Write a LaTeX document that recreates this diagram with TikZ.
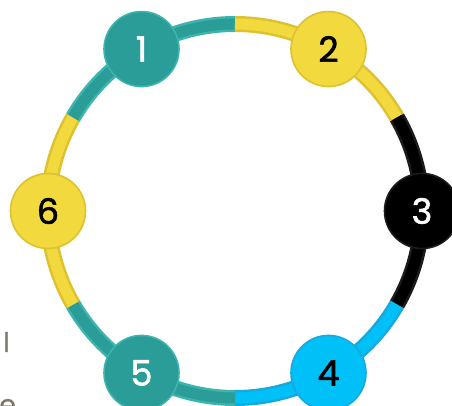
\documentclass[tikz,border=0pt]{standalone}
\usepackage{fontspec}
\setmainfont{Poppins}
\newfontfamily\numfont{Poppins}[FakeBold=1.6]
\newfontfamily\sidefont{Poppins}[FakeBold=0.8]
\definecolor{teal1}{HTML}{2A9D98}
\definecolor{teal2}{HTML}{3DB5AE}
\definecolor{yel1}{HTML}{F2D93E}
\definecolor{yel2}{HTML}{DEC12E}
\definecolor{blk1}{HTML}{000000}
\definecolor{blk2}{HTML}{1C1C1C}
\definecolor{blu1}{HTML}{00C0F8}
\definecolor{blu2}{HTML}{18A8DE}
\definecolor{side}{HTML}{7B7866}
\tikzset{
  numnode/.style n args={3}{circle, minimum size=75pt, inner sep=0pt, line width=1.6pt,
     fill=#1, draw=#2, text=#3, font=\numfont\fontsize{35}{35}\selectfont},
  sidetext/.style={anchor=base west, inner sep=0pt, text=side, font=\sidefont\fontsize{27}{27}\selectfont}
}
\newcommand{\ringseg}[4]{%
  \draw[line width=16pt, #3] ([shift={(#1:187)}]C) arc[start angle=#1, end angle=#2, radius=187];
  \draw[line width=11pt, #4] ([shift={(#1:187)}]C) arc[start angle=#1, end angle=#2, radius=187];
}
\begin{document}
\begin{tikzpicture}[x=1pt,y=1pt]
\useasboundingbox (0,0) rectangle (452,406);
\coordinate (C) at (235,195);
\ringseg{120}{90}{teal2}{teal1}
\ringseg{90}{30}{yel2}{yel1}
\ringseg{30}{-30}{blk2}{blk1}
\ringseg{-30}{-90}{blu2}{blu1}
\ringseg{-90}{-150}{teal2}{teal1}
\ringseg{-150}{-210}{yel2}{yel1}
\ringseg{150}{120}{teal2}{teal1}
\node[numnode={teal1}{teal2}{white}] (n1) at ([shift={(120:187)}]C) {1};
\node[numnode={yel1}{yel2}{black}] (n2) at ([shift={(60:187)}]C) {2};
\node[numnode={blk1}{blk2}{white}] (n3) at ([shift={(0:187)}]C) {3};
\node[numnode={blu1}{blu2}{black}] (n4) at ([shift={(-60:187)}]C) {4};
\node[numnode={teal1}{teal2}{white}] (n5) at ([shift={(-120:187)}]C) {5};
\node[numnode={yel1}{yel2}{black}] (n6) at ([shift={(180:187)}]C) {6};
\node[sidetext] (l1) at (3,54) {l};
\node[sidetext] (l2) at (-1,-8) {e};
\end{tikzpicture}
\end{document}
